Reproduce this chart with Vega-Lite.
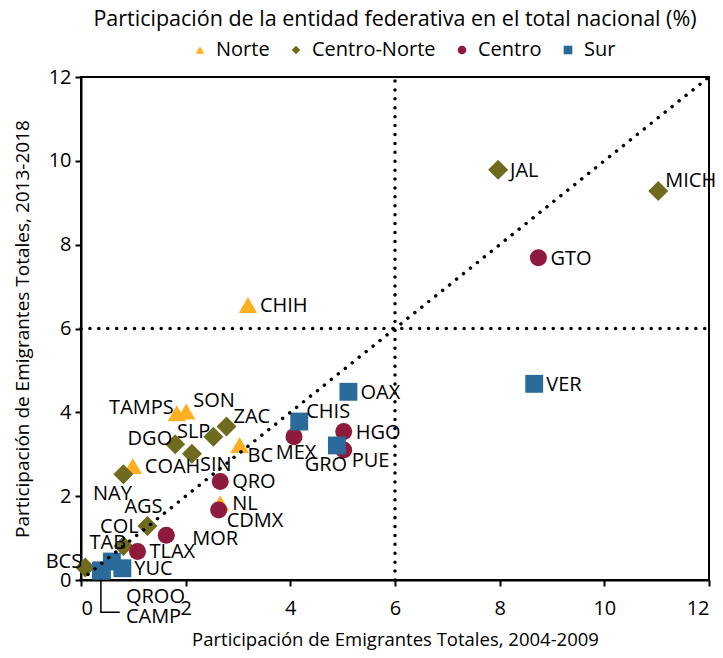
{
  "$schema": "https://vega.github.io/schema/vega-lite/v6.json",
  "width": 628,
  "height": 503,
  "autosize": {"type": "none"},
  "padding": {"left": 81, "top": 77, "right": 14, "bottom": 78},
  "background": "white",
  "title": {"text": "Participación de la entidad federativa en el total nacional (%)", "anchor": "middle", "offset": 10, "fontSize": 21.5, "font": "Open Sans", "fontWeight": "normal", "color": "black"},
  "config": {
    "font": "Open Sans",
    "view": {"stroke": "black", "strokeWidth": 2},
    "axis": {"grid": false, "domainColor": "black", "domainWidth": 2, "tickColor": "black", "tickWidth": 2, "tickSize": 6, "labelFontSize": 20, "labelColor": "black", "titleFontWeight": "normal", "titleColor": "black", "labelFont": "Open Sans", "titleFont": "Open Sans"},
    "legend": {"labelFont": "Open Sans"},
    "text": {"font": "Open Sans"}
  },
  "datasets": {
    "pts": [
      {"e": "CHIH", "r": "Norte", "x": 3.19, "y": 6.56, "p": "E"},
      {"e": "TAMPS", "r": "Norte", "x": 1.83, "y": 3.98, "p": "W"},
      {"e": "SON", "r": "Norte", "x": 2.01, "y": 4.02, "p": "NE"},
      {"e": "BC", "r": "Norte", "x": 3.03, "y": 3.22, "p": "SE"},
      {"e": "COAH", "r": "Norte", "x": 0.99, "y": 2.72, "p": "E"},
      {"e": "NL", "r": "Norte", "x": 2.66, "y": 1.83, "p": "E"},
      {"e": "JAL", "r": "Centro-Norte", "x": 7.97, "y": 9.79, "p": "E"},
      {"e": "MICH", "r": "Centro-Norte", "x": 11.03, "y": 9.28, "p": "NE"},
      {"e": "ZAC", "r": "Centro-Norte", "x": 2.78, "y": 3.66, "p": "NE"},
      {"e": "SLP", "r": "Centro-Norte", "x": 2.53, "y": 3.42, "p": "W"},
      {"e": "DGO", "r": "Centro-Norte", "x": 1.8, "y": 3.24, "p": "W"},
      {"e": "SIN", "r": "Centro-Norte", "x": 2.12, "y": 3.01, "p": "SE"},
      {"e": "NAY", "r": "Centro-Norte", "x": 0.81, "y": 2.52, "p": "SW"},
      {"e": "AGS", "r": "Centro-Norte", "x": 1.27, "y": 1.29, "p": "N"},
      {"e": "COL", "r": "Centro-Norte", "x": 0.81, "y": 0.81, "p": "N"},
      {"e": "BCS", "r": "Centro-Norte", "x": 0.08, "y": 0.3, "p": "W"},
      {"e": "GTO", "r": "Centro", "x": 8.74, "y": 7.69, "p": "E"},
      {"e": "HGO", "r": "Centro", "x": 5.02, "y": 3.54, "p": "E"},
      {"e": "PUE", "r": "Centro", "x": 5.02, "y": 3.1, "p": "SE"},
      {"e": "MEX", "r": "Centro", "x": 4.07, "y": 3.42, "p": "S"},
      {"e": "QRO", "r": "Centro", "x": 2.66, "y": 2.35, "p": "E"},
      {"e": "CDMX", "r": "Centro", "x": 2.63, "y": 1.67, "p": "SE"},
      {"e": "MOR", "r": "Centro", "x": 1.63, "y": 1.07, "p": "EF"},
      {"e": "TLAX", "r": "Centro", "x": 1.08, "y": 0.68, "p": "E"},
      {"e": "VER", "r": "Sur", "x": 8.66, "y": 4.68, "p": "E"},
      {"e": "OAX", "r": "Sur", "x": 5.11, "y": 4.49, "p": "E"},
      {"e": "CHIS", "r": "Sur", "x": 4.17, "y": 3.78, "p": "NE"},
      {"e": "GRO", "r": "Sur", "x": 4.89, "y": 3.21, "p": "SW"},
      {"e": "TAB", "r": "Sur", "x": 0.59, "y": 0.44, "p": "N"},
      {"e": "QROO", "r": "Sur", "x": 0.4, "y": 0.23, "p": "Q1"},
      {"e": "CAMP", "r": "Sur", "x": 0.38, "y": 0.22, "p": "Q2"},
      {"e": "YUC", "r": "Sur", "x": 0.79, "y": 0.28, "p": "E"}
    ]
  },
  "encoding": {
    "color": {"field": "r", "type": "nominal", "scale": {"domain": ["Norte", "Centro-Norte", "Centro", "Sur"], "range": ["#FFAF22", "#6E6B1F", "#8E1B3D", "#2A6B9C"]}, "legend": {"title": null, "orient": "none", "legendX": 109, "legendY": -37, "direction": "horizontal", "labelFontSize": 20, "labelColor": "black", "columnPadding": 16, "labelOffset": 6, "symbolSize": 75}},
    "shape": {"field": "r", "type": "nominal", "scale": {"domain": ["Norte", "Centro-Norte", "Centro", "Sur"], "range": ["triangle-up", "diamond", "circle", "square"]}, "legend": {"title": null, "orient": "none", "legendX": 109, "legendY": -37, "direction": "horizontal", "labelFontSize": 20, "labelColor": "black", "columnPadding": 16, "labelOffset": 6, "symbolSize": 75}}
  },
  "layer": [
    {
      "data": {"values": [{"x": 0.38, "y": 0.3, "o": 1}, {"x": 0.38, "y": -0.77, "o": 2}, {"x": 0.74, "y": -0.77, "o": 3}]},
      "mark": {"type": "line", "color": "black", "strokeWidth": 1.5, "clip": false},
      "encoding": {
        "x": {"field": "x", "type": "quantitative", "scale": {"domain": [0, 12], "nice": false}, "axis": {"values": [0, 2, 4, 6, 8, 10, 12], "title": "Participación de Emigrantes Totales, 2004-2009", "titleFontSize": 18.5, "labelPadding": 12, "titlePadding": 12}},
        "y": {"field": "y", "type": "quantitative", "scale": {"domain": [0, 12], "nice": false}, "axis": {"values": [0, 2, 4, 6, 8, 10, 12], "title": "Participación de Emigrantes Totales, 2013-2018", "titleFontSize": 19, "labelPadding": 4, "titlePadding": 16}},
        "order": {"field": "o"},
        "color": null,
        "shape": null
      }
    },
    {"data": {"name": "pts"}, "transform": [{"filter": "datum.r == 'Norte'"}], "mark": {"type": "point", "filled": true, "opacity": 1, "size": 340}, "encoding": {"x": {"field": "x", "type": "quantitative"}, "y": {"field": "y", "type": "quantitative"}}},
    {"data": {"name": "pts"}, "transform": [{"filter": "datum.r == 'Centro-Norte'"}], "mark": {"type": "point", "filled": true, "opacity": 1, "size": 400}, "encoding": {"x": {"field": "x", "type": "quantitative"}, "y": {"field": "y", "type": "quantitative"}}},
    {"data": {"name": "pts"}, "transform": [{"filter": "datum.r == 'Centro'"}], "mark": {"type": "point", "filled": true, "opacity": 1, "size": 290}, "encoding": {"x": {"field": "x", "type": "quantitative"}, "y": {"field": "y", "type": "quantitative"}}},
    {"data": {"name": "pts"}, "transform": [{"filter": "datum.r == 'Sur'"}], "mark": {"type": "point", "filled": true, "opacity": 1, "size": 320}, "encoding": {"x": {"field": "x", "type": "quantitative"}, "y": {"field": "y", "type": "quantitative"}}},
    {
      "data": {"values": [{"x": 0, "y": 6, "x2": 12, "y2": 6}, {"x": 6, "y": 0, "x2": 6, "y2": 12}, {"x": 0, "y": 0, "x2": 12, "y2": 12}]},
      "mark": {"type": "rule", "color": "black", "strokeWidth": 3.5, "strokeDash": [0.01, 8.9], "strokeCap": "round"},
      "encoding": {
        "x": {"field": "x", "type": "quantitative"},
        "y": {"field": "y", "type": "quantitative"},
        "x2": {"field": "x2"},
        "y2": {"field": "y2"},
        "color": null,
        "shape": null
      }
    },
    {"data": {"name": "pts"}, "transform": [{"filter": "datum.p == 'E'"}], "mark": {"type": "text", "align": "left", "baseline": "middle", "dx": 12, "dy": 1, "fontSize": 20, "color": "black"}, "encoding": {"x": {"field": "x", "type": "quantitative"}, "y": {"field": "y", "type": "quantitative"}, "text": {"field": "e"}, "color": null, "shape": null}},
    {"data": {"name": "pts"}, "transform": [{"filter": "datum.p == 'EF'"}], "mark": {"type": "text", "align": "left", "baseline": "middle", "dx": 26, "dy": 4, "fontSize": 20, "color": "black"}, "encoding": {"x": {"field": "x", "type": "quantitative"}, "y": {"field": "y", "type": "quantitative"}, "text": {"field": "e"}, "color": null, "shape": null}},
    {"data": {"name": "pts"}, "transform": [{"filter": "datum.p == 'NE'"}], "mark": {"type": "text", "align": "left", "baseline": "middle", "dx": 7, "dy": -10, "fontSize": 20, "color": "black"}, "encoding": {"x": {"field": "x", "type": "quantitative"}, "y": {"field": "y", "type": "quantitative"}, "text": {"field": "e"}, "color": null, "shape": null}},
    {"data": {"name": "pts"}, "transform": [{"filter": "datum.p == 'SE'"}], "mark": {"type": "text", "align": "left", "baseline": "middle", "dx": 8, "dy": 11, "fontSize": 20, "color": "black"}, "encoding": {"x": {"field": "x", "type": "quantitative"}, "y": {"field": "y", "type": "quantitative"}, "text": {"field": "e"}, "color": null, "shape": null}},
    {"data": {"name": "pts"}, "transform": [{"filter": "datum.p == 'W'"}], "mark": {"type": "text", "align": "right", "baseline": "middle", "dx": -3, "dy": -5, "fontSize": 20, "color": "black"}, "encoding": {"x": {"field": "x", "type": "quantitative"}, "y": {"field": "y", "type": "quantitative"}, "text": {"field": "e"}, "color": null, "shape": null}},
    {"data": {"name": "pts"}, "transform": [{"filter": "datum.p == 'S'"}], "mark": {"type": "text", "align": "center", "baseline": "middle", "dx": 2, "dy": 16, "fontSize": 20, "color": "black"}, "encoding": {"x": {"field": "x", "type": "quantitative"}, "y": {"field": "y", "type": "quantitative"}, "text": {"field": "e"}, "color": null, "shape": null}},
    {"data": {"name": "pts"}, "transform": [{"filter": "datum.p == 'SW'"}], "mark": {"type": "text", "align": "center", "baseline": "middle", "dx": -11, "dy": 20, "fontSize": 20, "color": "black"}, "encoding": {"x": {"field": "x", "type": "quantitative"}, "y": {"field": "y", "type": "quantitative"}, "text": {"field": "e"}, "color": null, "shape": null}},
    {"data": {"name": "pts"}, "transform": [{"filter": "datum.p == 'N'"}], "mark": {"type": "text", "align": "center", "baseline": "middle", "dx": -4, "dy": -19, "fontSize": 20, "color": "black"}, "encoding": {"x": {"field": "x", "type": "quantitative"}, "y": {"field": "y", "type": "quantitative"}, "text": {"field": "e"}, "color": null, "shape": null}},
    {"data": {"name": "pts"}, "transform": [{"filter": "datum.p == 'Q1'"}], "mark": {"type": "text", "align": "left", "baseline": "middle", "dx": 24, "dy": 27, "fontSize": 20, "color": "black"}, "encoding": {"x": {"field": "x", "type": "quantitative"}, "y": {"field": "y", "type": "quantitative"}, "text": {"field": "e"}, "color": null, "shape": null}},
    {"data": {"name": "pts"}, "transform": [{"filter": "datum.p == 'Q2'"}], "mark": {"type": "text", "align": "left", "baseline": "middle", "dx": 25, "dy": 46, "fontSize": 20, "color": "black"}, "encoding": {"x": {"field": "x", "type": "quantitative"}, "y": {"field": "y", "type": "quantitative"}, "text": {"field": "e"}, "color": null, "shape": null}}
  ]
}
